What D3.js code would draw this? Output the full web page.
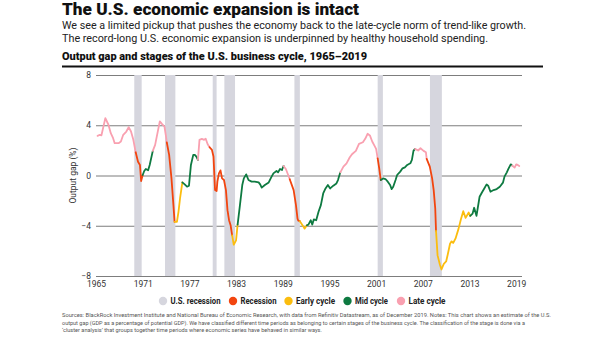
<!DOCTYPE html>
<html>
<head>
<meta charset="utf-8">
<script src="https://cdn.jsdelivr.net/npm/d3@7"></script>
<style>
  body { margin: 0; background: #fff; }
  svg { display: block; font-family: Roboto, "Noto Sans", sans-serif; }
</style>
</head>
<body>
<div id="wrapper"></div>
<script>
// 1. Data
const years = [
  1965.2, 1965.5, 1965.7, 1966.2, 1966.6, 1966.9, 1967.2, 1967.4, 1967.9, 1968.2,
  1968.5, 1968.9, 1969.2, 1969.5, 1969.8, 1970.1, 1970.4, 1970.65, 1970.8, 1971.0,
  1971.2, 1971.4, 1971.7, 1971.9, 1972.3, 1972.6, 1972.9, 1973.2, 1973.5, 1973.8,
  1974.0, 1974.1, 1974.4, 1974.7, 1974.95, 1975.1, 1975.4, 1975.6, 1975.8, 1976.1,
  1976.4, 1976.7, 1976.95, 1977.2, 1977.5, 1977.7, 1977.9, 1978.1, 1978.3, 1978.6,
  1978.9, 1979.1, 1979.35, 1979.6, 1979.9, 1980.1, 1980.3, 1980.5, 1980.6, 1980.8,
  1981.0, 1981.2, 1981.45, 1981.7, 1981.9, 1982.1, 1982.3, 1982.5, 1982.7, 1983.0,
  1983.2, 1983.5, 1983.8, 1984.0, 1984.3, 1984.6, 1985.0, 1985.4, 1985.9, 1986.1,
  1986.3, 1986.7, 1987.2, 1987.5, 1987.8, 1988.2, 1988.4, 1988.65, 1988.9, 1989.1,
  1989.4, 1989.7, 1989.9, 1990.4, 1990.7, 1990.9, 1991.0, 1991.2, 1991.6, 1991.8,
  1992.1, 1992.3, 1992.6, 1992.8, 1993.0, 1993.3, 1993.6, 1993.9, 1994.2, 1994.5,
  1994.8, 1995.1, 1995.5, 1995.9, 1996.1, 1996.4, 1996.8, 1997.2, 1997.6, 1997.9,
  1998.4, 1998.8, 1999.3, 1999.6, 1999.9, 2000.2, 2000.5, 2000.8, 2001.0, 2001.2,
  2001.4, 2001.6, 2001.9, 2002.2, 2002.5, 2002.8, 2003.0, 2003.2, 2003.5, 2003.7,
  2004.1, 2004.4, 2004.7, 2005.0, 2005.4, 2005.6, 2005.8, 2006.0, 2006.4, 2006.7,
  2007.1, 2007.4, 2007.5, 2007.9, 2008.2, 2008.4, 2008.6, 2008.7, 2008.9, 2009.2,
  2009.4, 2009.7, 2010.0, 2010.2, 2010.5, 2010.7, 2010.9, 2011.2, 2011.6, 2011.9,
  2012.2, 2012.5, 2012.9, 2013.1, 2013.4, 2013.6, 2013.9, 2014.3, 2014.6, 2014.9,
  2015.2, 2015.4, 2015.7, 2016.1, 2016.5, 2016.9, 2017.3, 2017.5, 2017.8, 2018.0,
  2018.3, 2018.5, 2018.8, 2019.0, 2019.2, 2019.4
]

const outputGap = [
  3.16, 3.24, 3.2, 4.57, 4.04, 3.37, 2.97, 2.57, 2.57, 2.7,
  3.24, 3.5, 3.85, 3.5, 2.84, 1.85, 1.1, 0.84, -0.44, 0.04,
  0.36, 0.52, 0.41, 0.84, 1.96, 2.44, 3.37, 4.31, 4.09, 3.9,
  3.1, 2.63, 1.64, -0.23, -2.36, -3.69, -3.69, -2.89, -1.83, -0.55,
  -0.71, -0.89, -0.81, 0.84, 1.64, 1.64, 1.5, 1.24, 2.84, 2.92,
  2.84, 2.92, 2.49, 2.25, 2.04, 1.51, -1.16, -1.24, -0.49, 0.17,
  0.41, -0.23, -0.36, -1.16, -2.76, -3.56, -3.96, -4.76, -5.51, -5.16,
  -3.91, -2.36, -0.76, -0.23, 0.09, -0.36, -0.49, -0.49, -0.55, -0.71,
  -0.97, -0.76, -0.55, -0.17, 0.17, 0.36, 0.25, 0.52, 0.44, 0.76,
  0.52, 0.04, -0.3, -1.16, -2.36, -3.43, -3.6, -3.64, -4.01, -4.23,
  -3.96, -3.91, -3.56, -3.91, -3.49, -3.56, -2.89, -2.36, -1.43, -1.03,
  -0.76, -1.03, -0.81, -0.63, -0.36, 0.25, 0.71, 0.97, 1.43, 1.69,
  1.96, 2.52, 2.65, 2.92, 3.32, 3.19, 2.71, 2.36, 2.12, 1.37,
  0.57, -0.36, -0.23, -0.28, -0.49, -0.76, -1.08, -0.89, -0.36, 0.04,
  0.31, 0.57, 0.65, 0.84, 0.97, 1.24, 1.96, 2.12, 1.99, 2.17,
  1.96, 1.85, 1.32, 0.71, -0.23, -1.16, -2.63, -4.41, -6.36, -7.11,
  -7.48, -7.03, -6.84, -6.31, -5.43, -5.24, -5.37, -5.03, -4.23, -3.48,
  -2.84, -3.37, -2.95, -3.21, -3.03, -2.57, -3.21, -1.69, -1.35, -1.03,
  -0.71, -0.81, -1.29, -1.16, -1.08, -0.89, -0.57, -0.09, 0.25, 0.52,
  0.89, 0.79, 0.63, 0.89, 0.84, 0.76
]

// stage of the segment that starts at each point: R recession, E early, M mid, L late
const stages = (
  "LLLLLLLLLL" + "LLLLLRRRRM" + "MMMMLLLLLL" + "LRRRREEEEM" + "MMMMMMMLLL" +
  "LLLRRRRRRR" + "RRRRRRREEE" + "MMMMMMMMMM" + "MMMMMMMMML" + "LLRRRRREEE" +
  "MMMMMMMMMM" + "MMMMMLLLLL" + "LLLLLLLLLR" + "RMMMMMMMMM" + "MMMMMMMLLL" +
  "LLRRRRREEE" + "EEEEEEEEEE" + "EEEMMMMMMM" + "MMMMMMMMMM" + "MLLLLL"
).split("")

const recessions = [
  [1969.92, 1970.87], [1973.87, 1975.2], [1980.0, 1980.5],
  [1981.5, 1982.87], [1990.5, 1991.2], [2001.2, 2001.87], [2007.92, 2009.45]
]

const yTicks = [-8, -4, 0, 4, 8]
const xTicks = [1965, 1971, 1977, 1983, 1989, 1995, 2001, 2007, 2013, 2019]

const stageColors = {
  R: "#f2450f",
  E: "#fbbd0f",
  M: "#0e7a41",
  L: "#f9a0b0",
}
const legendItems = [
  { label: "U.S. recession", color: "#d6d6de", x: 163, w: 50 },
  { label: "Recession", color: stageColors.R, x: 233, w: 36 },
  { label: "Early cycle", color: stageColors.E, x: 288.5, w: 39 },
  { label: "Mid cycle", color: stageColors.M, x: 347.5, w: 33 },
  { label: "Late cycle", color: stageColors.L, x: 401, w: 37 },
]

const data = years.map((y, i) => ({ year: y, gap: outputGap[i], stage: stages[i] }))

// 2. Dimensions
const dimensions = {
  width: 605,
  height: 341,
  margins: { top: 75, right: 83, bottom: 65, left: 96 },
}
dimensions.boundedWidth = dimensions.width - dimensions.margins.left - dimensions.margins.right
dimensions.boundedHeight = dimensions.height - dimensions.margins.top - dimensions.margins.bottom

// 3. Canvas
const wrapper = d3.select("#wrapper")
  .append("svg")
  .attr("width", dimensions.width)
  .attr("height", dimensions.height)

// headings
wrapper.append("text")
  .text("The U.S. economic expansion is intact")
  .attr("x", 62).attr("y", 14.5)
  .attr("textLength", 297).attr("lengthAdjust", "spacingAndGlyphs")
  .style("font-size", "16px").style("font-weight", 900).style("fill", "#111")

const subLines = [
  "We see a limited pickup that pushes the economy back to the late-cycle norm of trend-like growth.",
  "The record-long U.S. economic expansion is underpinned by healthy household spending.",
]
const subLengths = [464, 426]
subLines.forEach((t, i) => {
  wrapper.append("text")
    .text(t)
    .attr("x", 62).attr("y", 28.5 + i * 13)
    .attr("textLength", subLengths[i]).attr("lengthAdjust", "spacingAndGlyphs")
    .style("font-size", "11px").style("fill", "#222")
})

wrapper.append("text")
  .text("Output gap and stages of the U.S. business cycle, 1965–2019")
  .attr("x", 62).attr("y", 60)
  .attr("textLength", 305).attr("lengthAdjust", "spacingAndGlyphs")
  .style("font-size", "11px").style("font-weight", 900).style("fill", "#111")

wrapper.append("line")
  .attr("x1", 62).attr("x2", 543)
  .attr("y1", 66.5).attr("y2", 66.5)
  .style("stroke", "#111").style("stroke-width", 2)

const bounds = wrapper.append("g")
  .attr("transform", `translate(${dimensions.margins.left}, ${dimensions.margins.top})`)

// 4. Scales
const xScale = d3.scaleLinear()
  .domain([1965, 2019.75])
  .range([0, dimensions.boundedWidth])

const yScale = d3.scaleLinear()
  .domain([-8, 8])
  .range([dimensions.boundedHeight, 0])

// 5. Gridlines / y axis
const yAxis = bounds.append("g")
  .call(d3.axisLeft(yScale)
    .tickValues(yTicks)
    .tickSize(-dimensions.boundedWidth)
    .tickPadding(5))
yAxis.select(".domain").remove()
yAxis.selectAll(".tick line").style("stroke", "#6e6e6e").style("stroke-width", 0.9)
yAxis.selectAll(".tick text")
  .style("font-size", "8.5px").style("fill", "#333")
  .style("font-family", "Roboto, sans-serif")

bounds.append("text")
  .text("Output gap (%)")
  .attr("transform", `translate(-20, ${dimensions.boundedHeight / 2}) rotate(-90)`)
  .attr("text-anchor", "middle")
  .style("font-size", "8.5px").style("fill", "#333")

// recession bands
bounds.append("g")
  .selectAll("rect")
  .data(recessions)
  .join("rect")
  .attr("x", (d) => xScale(d[0]))
  .attr("width", (d) => xScale(d[1]) - xScale(d[0]))
  .attr("y", 0)
  .attr("height", dimensions.boundedHeight)
  .style("fill", "#d6d6de")

// x axis
const xAxis = bounds.append("g")
  .attr("transform", `translate(0, ${dimensions.boundedHeight})`)
  .call(d3.axisBottom(xScale)
    .tickValues(xTicks)
    .tickFormat(d3.format("d"))
    .tickSize(0)
    .tickPadding(5))
xAxis.select(".domain").remove()
xAxis.selectAll(".tick text")
  .style("font-size", "8.5px").style("fill", "#333")
  .style("font-family", "Roboto, sans-serif")

// 6. Line, coloured by stage
const runs = []
data.slice(0, -1).forEach((d, i) => {
  const last = runs[runs.length - 1]
  if (last && last.stage === d.stage) {
    last.points.push(data[i + 1])
  } else {
    runs.push({ stage: d.stage, points: [d, data[i + 1]] })
  }
})

const lineGenerator = d3.line()
  .x((d) => xScale(d.year))
  .y((d) => yScale(d.gap))

bounds.append("g")
  .selectAll("path")
  .data(runs)
  .join("path")
  .attr("d", (d) => lineGenerator(d.points))
  .style("fill", "none")
  .style("stroke", (d) => stageColors[d.stage])
  .style("stroke-width", 1.8)
  .style("stroke-linejoin", "round")
  .style("stroke-linecap", "round")

// 7. Legend
const legend = wrapper.append("g").attr("transform", "translate(0, 301)")
const legendGroups = legend.selectAll("g")
  .data(legendItems)
  .join("g")
  .attr("transform", (d) => `translate(${d.x}, 0)`)
legendGroups.append("circle")
  .attr("r", 4.2)
  .style("fill", (d) => d.color)
legendGroups.append("text")
  .text((d) => d.label)
  .attr("x", 7.5).attr("y", 3.2)
  .attr("textLength", (d) => d.w).attr("lengthAdjust", "spacingAndGlyphs")
  .style("font-size", "9px").style("font-weight", 700).style("fill", "#222")

// 8. Source note
const sourceLines = [
  "Sources: BlackRock Investment Institute and National Bureau of Economic Research, with data from Refinitiv Datastream, as of December 2019. Notes: This chart shows an estimate of the U.S.",
  "output gap (GDP as a percentage of potential GDP). We have classified different time periods as belonging to certain stages of the business cycle. The classification of the stage is done via a",
  "‘cluster analysis’ that groups together time periods where economic series have behaved in similar ways.",
]
const sourceLengths = [489, 463, 260]
sourceLines.forEach((t, i) => {
  wrapper.append("text")
    .text(t)
    .attr("x", 62).attr("y", 317 + i * 7.7)
    .attr("textLength", sourceLengths[i]).attr("lengthAdjust", "spacingAndGlyphs")
    .style("font-size", "5.9px").style("fill", "#555")
})
</script>
</body>
</html>
